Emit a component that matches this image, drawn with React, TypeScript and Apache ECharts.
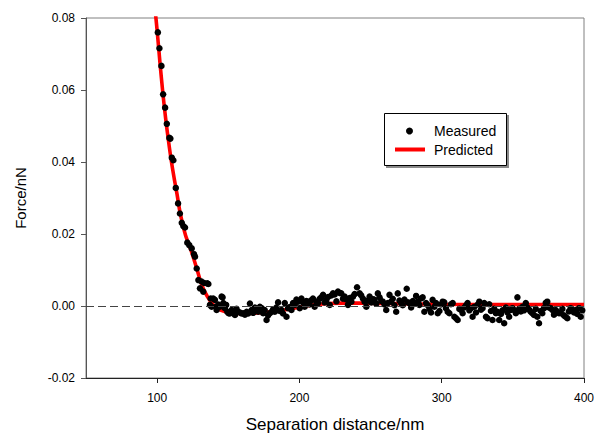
import React, { useEffect, useRef } from "react";
import * as echarts from "echarts";

const FONT = "Liberation Sans, Arial, sans-serif";

const xTicks = [100, 200, 300, 400];
const legendNames = ["Measured", "Predicted"];

const measuredSteep: number[][] = [
  [100.5, 0.076], [101.6, 0.0716], [103.0, 0.0667], [104.2, 0.0588], [105.6, 0.0551],
  [106.8, 0.0506], [108.6, 0.0467], [109.3, 0.0465], [110.3, 0.0412], [111.4, 0.0405],
  [113.1, 0.0328], [114.7, 0.0285], [116.0, 0.0257], [117.3, 0.0231], [118.4, 0.0222],
  [119.6, 0.0218], [121.2, 0.0176], [122.6, 0.0169], [124.3, 0.016], [125.9, 0.0144],
  [126.6, 0.0137], [127.8, 0.0104], [129.0, 0.0072], [130.1, 0.0049], [131.2, 0.0068],
  [132.4, 0.004], [133.0, 0.0064], [135.2, 0.0063], [136.0, 0.0061], [137.1, 0.0003],
  [137.6, 0.0021], [138.3, -0.0002], [139.4, 0.0021], [140.6, 0.0017], [141.3, -0.0002],
  [141.8, -0.0011], [143.0, 0.0004], [144.1, -0.0002], [145.3, 0.0026], [146.0, 0.0024],
  [146.5, 0.0008], [147.6, -0.0006], [148.5, 0.0003], [149.3, -0.0016],
];

const measuredNoise: number[][] = [
  [150.2, -0.002], [151.1, -0.0021], [152.3, -0.0011], [153.5, -0.0013], [154.7, -0.0025],
  [155.8, -0.0008], [157.0, -0.0016], [158.2, -0.0018], [159.3, -0.0021], [160.5, -0.002],
  [161.7, -0.0024], [162.9, -0.0016], [164.0, -0.0021], [165.2, 0.0007], [166.4, -0.0011],
  [167.5, -0.0019], [168.7, -0.0004], [170.0, -0.0013], [171.0, -0.0016], [172.2, -0.0002],
  [173.4, -0.0006], [174.5, -0.002], [175.6, -0.0011], [176.9, -0.0039], [178.0, -0.0026],
  [179.2, -0.002], [180.4, -0.0016], [181.5, -0.0009], [182.7, -0.0016], [183.8, -0.0004],
  [185.0, 0.001], [186.2, -0.0014], [187.4, -0.0011], [188.5, -0.0021], [189.7, 0.0008],
  [190.9, -0.003], [192.0, -0.0006], [193.2, -0.0003], [194.4, -0.0011], [195.5, 0.0008],
  [196.7, 0.0003], [197.9, 0.0018], [199.0, 0.0012], [200.2, -0.0006], [201.4, 0.0021],
  [202.5, 0.001], [203.7, -0.0002], [204.8, 0.0014], [206.0, 0.0012], [207.2, 0.0004],
  [208.3, 0.0016], [209.5, 0.0021], [210.7, -0.0002], [211.8, 0.0012], [213.0, 0.0008],
  [214.2, 0.002], [215.4, 0.0024], [216.6, 0.0031], [217.7, 0.001], [218.9, 0.0017],
  [220.1, 0.0025], [221.3, 0.0003], [222.4, 0.0029], [223.6, 0.0035], [224.8, 0.0032],
  [226.0, 0.0013], [227.1, 0.004], [228.3, 0.0036], [229.4, 0.0035], [230.6, 0.002],
  [231.8, 0.0026], [233.0, 0.0018], [234.1, 0.0003], [235.3, 0.0022], [236.5, 0.0012],
  [237.6, 0.0026], [238.8, 0.0033], [240.5, 0.0052], [242.3, 0.0035], [243.4, 0.003],
  [244.6, 0.0021], [245.8, 0.0012], [247.0, -0.0002], [248.1, 0.0015], [249.3, 0.0026],
  [250.5, 0.001], [251.6, 0.0019], [252.8, 0.0017], [254.0, 0.0006], [255.1, 0.0035],
  [256.3, 0.0024], [257.5, 0.0014], [258.6, 0.0012], [259.8, 0.0004], [261.0, -0.0011],
  [262.1, 0.0008], [263.3, 0.0031], [264.5, 0.0012], [265.6, 0.002], [266.8, 0.0002],
  [268.0, -0.0016], [269.1, 0.0035], [270.3, 0.0015], [271.5, 0.0008], [272.6, 0.0002],
  [273.8, 0.0018], [275.4, 0.0048], [276.2, 0.001], [277.3, 0.0008], [278.5, -0.0004],
  [279.7, 0.0014], [280.8, 0.0006], [282.0, 0.0028], [283.2, 0.0012], [284.3, 0.0003],
  [285.5, 0.0021], [286.6, 0.0024], [287.8, -0.0016], [289.0, 0.0008], [290.2, 0.0002],
  [291.3, -0.0008], [292.5, -0.0018], [293.6, 0.0017], [294.8, -0.0002], [296.0, 0.0008],
  [297.2, -0.002], [298.4, -0.0014], [299.5, 0.0004], [300.7, 0.0012], [301.8, 0.001],
  [303.0, -0.0006], [304.2, -0.0016], [305.4, -0.002], [306.5, 0.0005], [307.7, 0.0008],
  [308.9, -0.003], [310.1, -0.0034], [311.2, -0.0039], [312.4, -0.0008], [313.6, -0.0011],
  [314.7, -0.002], [315.9, -0.0004], [317.1, 0.0002], [318.2, 0.0008], [319.4, -0.0012],
  [320.6, -0.0006], [321.7, -0.003], [322.9, -0.0002], [324.1, -0.0018], [325.3, 0.0004],
  [326.4, 0.0012], [327.6, -0.001], [328.7, -0.0006], [329.9, 0.0008], [331.1, -0.003],
  [332.2, -0.0034], [333.4, 0.0005], [334.6, -0.0014], [335.7, -0.0039], [336.9, -0.0008],
  [338.1, -0.002], [339.2, -0.0016], [340.4, -0.0039], [341.6, -0.0022], [342.7, -0.0012],
  [343.9, -0.0048], [345.1, -0.0004], [346.2, -0.0018], [347.4, -0.003], [348.6, -0.0011],
  [349.7, -0.0006], [350.9, -0.0011], [352.1, -0.002], [353.2, 0.0024], [354.4, -0.0008],
  [355.6, -0.0015], [356.8, -0.0002], [357.9, -0.0012], [359.1, 0.0008], [360.2, -0.0004],
  [361.4, -0.001], [362.6, -0.0016], [363.7, -0.002], [364.9, -0.0025], [366.1, -0.0008],
  [367.2, -0.003], [368.4, -0.0048], [369.6, -0.0014], [370.7, -0.002], [371.9, -0.0006],
  [373.1, 0.0009], [374.2, 0.0012], [375.4, -0.0004], [376.6, -0.0006], [377.8, -0.0011],
  [378.9, -0.0024], [380.1, -0.0011], [381.3, -0.0016], [382.4, -0.002], [383.6, -0.002],
  [384.8, -0.0008], [385.9, -0.0026], [387.1, -0.003], [388.3, -0.0034], [389.4, -0.0015],
  [390.6, -0.0006], [391.8, -0.0011], [393.0, -0.0018], [394.1, -0.0011], [395.3, -0.0022],
  [396.5, -0.0006], [397.7, -0.003], [398.8, -0.0012],
];

const predictedX = [
  98.5, 100, 102, 104, 106, 108, 110, 112, 114, 116, 118, 120, 122, 124, 126, 128, 130,
  132, 134, 136, 138, 140, 143, 147, 152, 160, 168, 178, 186, 192, 198, 205, 212, 220,
  230, 245, 262, 280, 300, 330, 360, 400,
];
const predictedY = [
  0.0825, 0.0765, 0.0675, 0.0592, 0.052, 0.0458, 0.0402, 0.0354, 0.031, 0.0262, 0.0226,
  0.0196, 0.0174, 0.0152, 0.0128, 0.0102, 0.0075, 0.0052, 0.0036, 0.0022, 0.001, 0.0001,
  -0.0008, -0.0015, -0.0019, -0.0021, -0.002, -0.0017, -0.0013, -0.0009, -0.0005, 0.0,
  0.0004, 0.0007, 0.0008, 0.0008, 0.0007, 0.0006, 0.0005, 0.0004, 0.0004, 0.0004,
];

export default function App() {
  const ref = useRef<HTMLDivElement>(null);
  useEffect(() => {
    if (!ref.current) return;
    const chart = echarts.init(ref.current, undefined, { renderer: "svg" });
    const predicted = predictedX.map((x, i) => [x, predictedY[i]]);
    chart.setOption({
      animation: false,
      backgroundColor: "#fff",
      textStyle: { fontFamily: FONT },
      grid: {
        left: 86,
        right: 11,
        top: 18,
        bottom: 57,
        outerBoundsMode: "none",
        show: true,
        borderColor: "#808080",
        borderWidth: 1,
        backgroundColor: "transparent",
      },
      graphic: [
        {
          type: "rect",
          z: 10,
          shape: { x: 386, y: 115, width: 123, height: 53 },
          style: { fill: "#8a8a8a" },
        },
        {
          type: "rect",
          z: 11,
          shape: { x: 384.5, y: 113.5, width: 122, height: 52 },
          style: { fill: "#fff", stroke: "#000", lineWidth: 1 },
        },
        {
          type: "circle",
          z: 12,
          shape: { cx: 409.5, cy: 131, r: 3.5 },
          style: { fill: "#000" },
        },
        {
          type: "line",
          z: 12,
          shape: { x1: 395, y1: 149.5, x2: 425, y2: 149.5 },
          style: { stroke: "#ff0000", lineWidth: 4 },
        },
        {
          type: "text",
          z: 12,
          style: {
            x: 434,
            y: 131,
            text: legendNames[0],
            fill: "#000",
            font: `14px ${FONT}`,
            verticalAlign: "middle",
          },
        },
        {
          type: "text",
          z: 12,
          style: {
            x: 434,
            y: 149.5,
            text: legendNames[1],
            fill: "#000",
            font: `14px ${FONT}`,
            verticalAlign: "middle",
          },
        },
      ],
      xAxis: {
        type: "value",
        min: 50,
        max: 400,
        name: "Separation distance/nm",
        nameLocation: "middle",
        nameGap: 38,
        nameTextStyle: { fontFamily: FONT, fontSize: 17, color: "#000" },
        axisLine: { show: true, onZero: false, lineStyle: { color: "#222", width: 1 } },
        axisTick: { show: true, inside: false, length: 5, customValues: xTicks, lineStyle: { color: "#222" } },
        axisLabel: {
          customValues: xTicks,
          fontFamily: FONT,
          fontSize: 12,
          color: "#000",
          margin: 14,
          showMaxLabel: true,
        },
        splitLine: { show: false },
      },
      yAxis: {
        type: "value",
        min: -0.02,
        max: 0.08,
        interval: 0.02,
        name: "Force/nN",
        nameLocation: "middle",
        nameGap: 58,
        nameTextStyle: { fontFamily: FONT, fontSize: 15, color: "#000" },
        axisLine: { show: true, onZero: false, lineStyle: { color: "#555", width: 1 } },
        axisTick: { show: true, inside: false, length: 5, lineStyle: { color: "#555" } },
        axisLabel: {
          fontFamily: FONT,
          fontSize: 12,
          color: "#000",
          margin: 11,
          formatter: (v: number) => v.toFixed(2),
        },
        splitLine: { show: false },
      },
      series: [
        {
          name: "Predicted",
          type: "line",
          data: predicted,
          symbol: "none",
          smooth: 0.3,
          clip: true,
          z: 2,
          lineStyle: { color: "#ff0000", width: 3.6 },
          itemStyle: { color: "#ff0000" },
          markLine: {
            silent: true,
            symbol: "none",
            label: { show: false },
            lineStyle: { color: "#444", width: 1, type: [8, 4] },
            data: [{ yAxis: 0 }],
          },
        },
        {
          name: "Measured",
          type: "scatter",
          data: [...measuredSteep, ...measuredNoise],
          symbol: "circle",
          symbolSize: 6.5,
          z: 3,
          itemStyle: { color: "#000", opacity: 1 },
        },
      ],
    });
    return () => chart.dispose();
  }, []);
  return (
    <div
      ref={ref}
      style={{ position: "fixed", left: 0, top: 0, width: 595, height: 435 }}
    />
  );
}
